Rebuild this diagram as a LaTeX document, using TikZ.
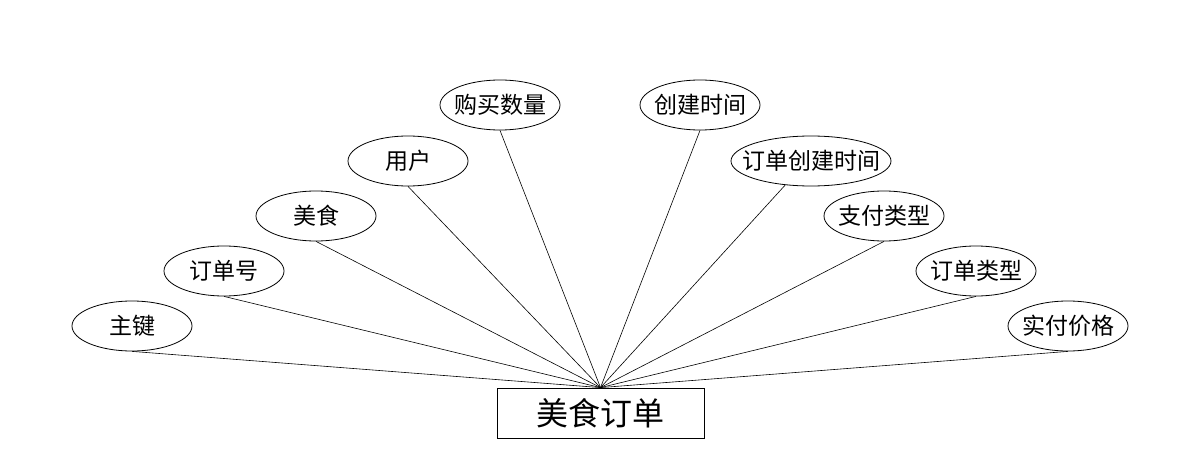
\documentclass[tikz,border=0pt]{standalone}
\usepackage{fontspec}
\newfontfamily\cjk{Noto Sans CJK SC}
\usetikzlibrary{shapes.geometric}
\tikzset{
  attr/.style={draw, ellipse, line width=0.8pt, inner sep=0pt, minimum width=120pt, minimum height=50pt, font=\cjk\fontsize{23}{23}\selectfont},
  ent/.style={draw, rectangle, line width=0.8pt, inner sep=0pt, minimum width=207pt, minimum height=50pt, font=\cjk\fontsize{32}{32}\selectfont},
  link/.style={line width=0.6pt}
}
\newcommand{\zt}[1]{\makebox[0pt]{#1}}
\begin{document}
\begin{tikzpicture}[x=1pt,y=-1pt]
\useasboundingbox (0,0) rectangle (1200,468);
\node[ent] (e) at (600.5,413) {\zt{美食订单}};
\node[attr] (o1) at (132,326) {\zt{主键}};
\node[attr] (o2) at (224,271) {\zt{订单号}};
\node[attr] (o3) at (316,216) {\zt{美食}};
\node[attr] (o4) at (408,161) {\zt{用户}};
\node[attr] (o5) at (500,105) {\zt{购买数量}};
\node[attr] (o6) at (700,105) {\zt{创建时间}};
\node[attr, minimum width=160pt] (o7) at (811,161) {\zt{订单创建时间}};
\node[attr] (o8) at (884,216) {\zt{支付类型}};
\node[attr] (o9) at (976,271) {\zt{订单类型}};
\node[attr] (o10) at (1068,326) {\zt{实付价格}};
\foreach \n in {o1,o2,o3,o4,o5,o6,o8,o9,o10}
  \draw[link] (\n.south) -- (e.north);
\draw[link] (o7.223) -- (e.north);
\end{tikzpicture}
\end{document}
